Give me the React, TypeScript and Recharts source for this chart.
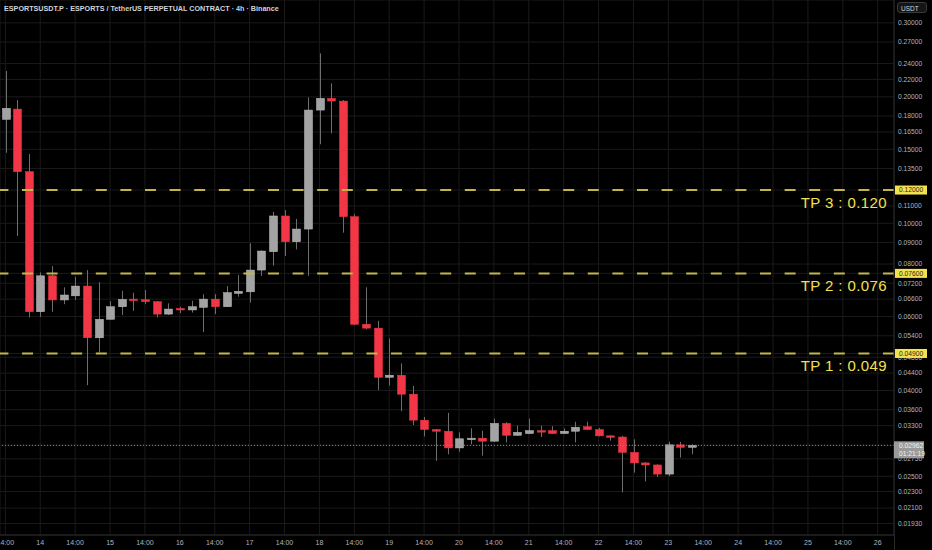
import React from 'react';
import { ComposedChart, Bar, XAxis, YAxis, CartesianGrid, ReferenceLine } from 'recharts';

// 4h candles, first one is 13th 14:00
const opens = [
  0.1768, 0.187, 0.1327, 0.0616, 0.075, 0.0657, 0.0672, 0.0709, 0.0534, 0.0591,
  0.0633, 0.066, 0.0658, 0.0651, 0.0608, 0.0627, 0.0622, 0.0631, 0.066, 0.0633,
  0.0681, 0.0687, 0.0774, 0.0856, 0.1041, 0.0904, 0.0969, 0.186, 0.1983, 0.1954,
  0.1037, 0.0575, 0.0563, 0.043, 0.0435, 0.0392, 0.034, 0.0323, 0.032, 0.0292,
  0.0307, 0.0308, 0.0303, 0.0334, 0.0313, 0.0316, 0.0321, 0.0321, 0.0316, 0.032,
  0.0328, 0.0323, 0.0312, 0.031, 0.0285, 0.0269, 0.0266, 0.0253, 0.0297, 0.0293,
];
const highs = [
  0.2304, 0.1965, 0.1462, 0.0764, 0.0791, 0.0704, 0.0746, 0.0774, 0.0724, 0.0653,
  0.0691, 0.0684, 0.0694, 0.0653, 0.0645, 0.0633, 0.0654, 0.0678, 0.0678, 0.0709,
  0.0753, 0.0896, 0.0862, 0.1065, 0.1075, 0.1024, 0.1994, 0.2538, 0.2153, 0.1965,
  0.1052, 0.0704, 0.0586, 0.0532, 0.0464, 0.041, 0.0346, 0.0324, 0.0354, 0.0318,
  0.0325, 0.0321, 0.0343, 0.0336, 0.033, 0.0343, 0.033, 0.0329, 0.0325, 0.0337,
  0.0337, 0.0326, 0.0313, 0.0312, 0.0306, 0.027, 0.0267, 0.0302, 0.0302, 0.0298,
];
const lows = [
  0.1472, 0.0933, 0.0597, 0.0599, 0.0616, 0.0642, 0.0657, 0.0412, 0.0492, 0.0591,
  0.0605, 0.0619, 0.0642, 0.0597, 0.0605, 0.0611, 0.0613, 0.0551, 0.0608, 0.0633,
  0.0669, 0.0648, 0.0749, 0.0793, 0.0836, 0.0867, 0.075, 0.1542, 0.1637, 0.095,
  0.0573, 0.0559, 0.0401, 0.0411, 0.0357, 0.0331, 0.0311, 0.0272, 0.0282, 0.0286,
  0.0298, 0.028, 0.0302, 0.0301, 0.0312, 0.0315, 0.031, 0.0315, 0.0315, 0.0301,
  0.0322, 0.0311, 0.0304, 0.0229, 0.0255, 0.0243, 0.0249, 0.025, 0.0277, 0.0282,
];
const closes = [
  0.1878, 0.1327, 0.0616, 0.075, 0.0657, 0.0675, 0.0709, 0.0534, 0.0591, 0.0633,
  0.0659, 0.0658, 0.0651, 0.0608, 0.0625, 0.0623, 0.0633, 0.066, 0.0633, 0.0684,
  0.0689, 0.0774, 0.0859, 0.1041, 0.0904, 0.0969, 0.186, 0.1983, 0.1954, 0.1037,
  0.0575, 0.0563, 0.043, 0.0435, 0.0392, 0.034, 0.0323, 0.032, 0.0292, 0.0307,
  0.0308, 0.0303, 0.0334, 0.0313, 0.0318, 0.0321, 0.032, 0.0316, 0.032, 0.0327,
  0.0323, 0.0312, 0.031, 0.0285, 0.0269, 0.0266, 0.0253, 0.0297, 0.0293, 0.02962,
];

const timeTicks = [0, 3, 6, 9, 12, 15, 18, 21, 24, 27, 30, 33, 36, 39, 42, 45, 48, 51, 54, 57, 60, 63, 66, 69, 72, 75];
const timeLabels = [
  '14:00', '14', '14:00', '15', '14:00', '16', '14:00', '17', '14:00', '18', '14:00', '19', '14:00',
  '20', '14:00', '21', '14:00', '22', '14:00', '23', '14:00', '24', '14:00', '25', '14:00', '26',
];

const priceTicks = [
  0.3, 0.27, 0.24, 0.22, 0.2, 0.18, 0.165, 0.15, 0.135, 0.11, 0.1, 0.09, 0.08, 0.072,
  0.066, 0.06, 0.054, 0.048, 0.044, 0.04, 0.036, 0.033, 0.0275, 0.025, 0.023, 0.021, 0.0193,
];

const targets = [0.12, 0.076, 0.049];
const targetLabels = ['TP 3 : 0.120', 'TP 2 : 0.076', 'TP 1 : 0.049'];
const lastPrice = 0.02962;
const countdown = '01:21:19';

const RED = '#f23645';
const GREY = '#a3a3a3';
const WICK = '#6e6e6e';
const YELLOW = '#f3e24f';

const rows = opens.map((o, i) => ({
  i,
  open: o,
  high: highs[i],
  low: lows[i],
  close: closes[i],
  range: [lows[i], highs[i]],
}));

function Candle(props: any) {
  const { x, y, width, height, payload } = props;
  if (x == null || y == null || !payload) return null;
  const top = Math.min(y, y + height);
  const bottom = Math.max(y, y + height);
  const lh = Math.log(payload.high);
  const ll = Math.log(payload.low);
  const toY = (v: number) => (lh === ll ? top : top + ((bottom - top) * (lh - Math.log(v))) / (lh - ll));
  const cx = Math.round(x + width / 2) + 0.5;
  const up = payload.close >= payload.open;
  const bTop = toY(Math.max(payload.open, payload.close));
  const bBot = toY(Math.min(payload.open, payload.close));
  const bh = Math.max(bBot - bTop, 1.5);
  return (
    <g>
      <line x1={cx} x2={cx} y1={top} y2={bottom} stroke={WICK} strokeWidth={1} />
      <rect
        x={cx - 4}
        y={bTop}
        width={8}
        height={bh}
        fill={up ? GREY : RED}
        stroke={up ? '#bdbdbd' : RED}
        strokeWidth={0.5}
      />
    </g>
  );
}

function PriceTick(props: any) {
  const { x, y, payload } = props;
  const v = payload.value;
  if (targets.includes(v)) {
    return (
      <g>
        <rect x={x - 3} y={y - 4.5} width={32} height={9} fill={YELLOW} />
        <text x={x + 1} y={y} dy="0.35em" fontSize={6.7} fill="#222">
          {v.toFixed(5)}
        </text>
      </g>
    );
  }
  if (v === lastPrice) {
    return (
      <g>
        <rect x={x - 4} y={y - 4} width={30} height={17} fill="#9a9a9a" />
        <text x={x + 1} y={y} dy="0.35em" fontSize={6.7} fill="#f2f2f2">
          {v.toFixed(5)}
        </text>
        <text x={x + 1} y={y + 8.5} dy="0.35em" fontSize={6.7} fill="#f2f2f2">
          {countdown}
        </text>
      </g>
    );
  }
  return (
    <text x={x} y={y} dy="0.35em" fontSize={6.7} fill="#b2b5be">
      {v.toFixed(5)}
    </text>
  );
}

export default function App() {
  return (
    <div
      style={{
        position: 'absolute',
        left: 0,
        top: 0,
        width: 932,
        height: 550,
        background: '#000',
        fontFamily: '"Liberation Sans", Arial, sans-serif',
        overflow: 'hidden',
      }}
    >
      <ComposedChart width={932} height={550} data={rows} margin={{ top: 0, right: 0, left: 0, bottom: 0 }}>
        <CartesianGrid stroke="#1a1a1a" strokeWidth={1} />
        <XAxis
          dataKey="i"
          type="number"
          domain={[-0.46, 76.4]}
          allowDataOverflow
          ticks={timeTicks}
          interval={0}
          tickFormatter={(v: number) => timeLabels[timeTicks.indexOf(v)] ?? ''}
          height={15}
          tickLine={false}
          tickSize={0}
          tickMargin={5}
          axisLine={{ stroke: '#2a2a2a' }}
          tick={{ fill: '#b2b5be', fontSize: 7 }}
        />
        <YAxis
          orientation="right"
          scale="log"
          domain={[0.01812, 0.34]}
          allowDataOverflow
          ticks={[...priceTicks, ...targets, lastPrice]}
          interval={0}
          width={38}
          tickLine={false}
          tickSize={4}
          tickMargin={0}
          axisLine={{ stroke: '#2a2a2a' }}
          tick={<PriceTick />}
        />
        <ReferenceLine y={lastPrice} stroke="#8a8a8a" strokeDasharray="1 2" strokeWidth={1} />
        {targets.map((t, k) => (
          <ReferenceLine
            key={t}
            y={t}
            stroke="#c2b64a"
            strokeWidth={2}
            strokeDasharray="11 13.6"
            label={{
              value: targetLabels[k],
              position: 'insideTopRight',
              offset: 7,
              fill: YELLOW,
              fontSize: 15,
              letterSpacing: 0.4,
            }}
          />
        ))}
        <Bar dataKey="range" barSize={8} shape={<Candle />} isAnimationActive={false} />
      </ComposedChart>
      <div
        style={{
          position: 'absolute',
          left: 4,
          top: 4,
          fontSize: 7.2,
          fontWeight: 600,
          color: '#d1d4dc',
          whiteSpace: 'nowrap',
        }}
      >
        ESPORTSUSDT.P · ESPORTS / TetherUS PERPETUAL CONTRACT · 4h · Binance
      </div>
      <div
        style={{
          position: 'absolute',
          left: 897,
          top: 2,
          width: 30,
          height: 11,
          border: '1px solid #3a3a3a',
          borderRadius: 3,
          background: '#151515',
          color: '#d1d4dc',
          fontSize: 6.5,
          lineHeight: '11px',
          paddingLeft: 3,
          boxSizing: 'border-box',
        }}
      >
        USDT
      </div>
      <div style={{ position: 'absolute', left: 894, top: 535, width: 1, height: 15, background: '#2a2a2a' }} />
    </div>
  );
}
